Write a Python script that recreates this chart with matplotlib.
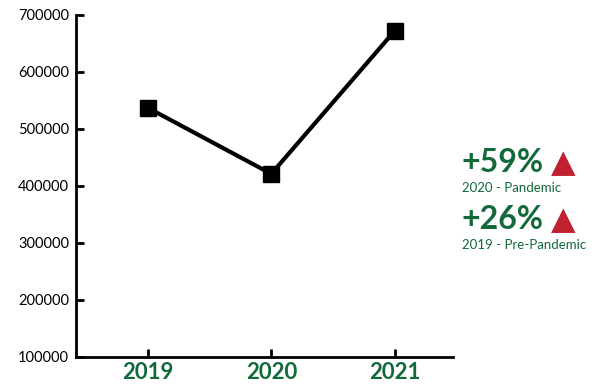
import matplotlib.pyplot as plt

# data
years = ['2019', '2020', '2021']
values = [537000, 421000, 672000]
y_ticks = [100000, 200000, 300000, 400000, 500000, 600000, 700000]

changes = ['+59%', '+26%']
change_labels = ['2020 - Pandemic', '2019 - Pre-Pandemic']

GREEN = '#12693a'
RED = '#c0202f'

plt.rcParams['font.family'] = ['Lato', 'DejaVu Sans']

fig = plt.figure(figsize=(5.99, 3.9), dpi=100)
ax = fig.add_axes([0.127, 0.085, 0.629, 0.877])

x = list(range(len(years)))
ax.plot(x, values, color='black', linewidth=3, marker='s', markersize=11)

ax.set_xlim(-0.58, 2.47)
ax.set_ylim(100000, 700000)
ax.set_yticks(y_ticks)
ax.set_yticklabels([str(v) for v in y_ticks], fontsize=10.5)
ax.set_xticks(x)
ax.set_xticklabels(years, fontsize=16, fontweight='bold', color=GREEN)

for s in ['top', 'right']:
    ax.spines[s].set_visible(False)
for s in ['left', 'bottom']:
    ax.spines[s].set_linewidth(2)
ax.tick_params(axis='both', direction='in', length=6, width=2)
ax.tick_params(axis='y', pad=5)
ax.tick_params(axis='x', pad=4)

# annotations on the right
for i, (c, lab) in enumerate(zip(changes, change_labels)):
    y0 = 0.559 - i * 0.146
    fig.text(0.770, y0, c, fontsize=23, fontweight='bold', color=GREEN,
             ha='left', va='baseline')
    fig.text(0.920, y0, '\u25b2', fontsize=23, color=RED, ha='left',
             va='baseline', family='DejaVu Sans')
    fig.text(0.772, y0 - 0.051, lab, fontsize=9.5, color=GREEN,
             ha='left', va='baseline')

fig.savefig('out.png', dpi=100)
